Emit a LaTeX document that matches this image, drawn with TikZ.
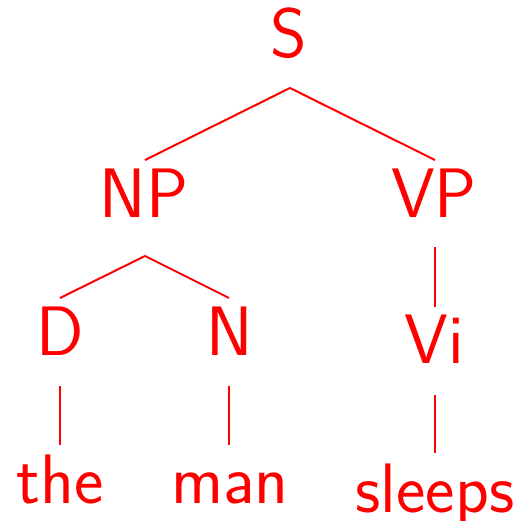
\documentclass[tikz,border=0pt]{standalone}
\usetikzlibrary{calc}
\begin{document}
\begin{tikzpicture}[x=0.5pt,y=-0.5pt,
  lbl/.style={text=red, font=\sffamily\fontsize{35}{42}\selectfont, inner sep=0pt, anchor=base, text height=23.5pt, text depth=0pt},
  edge/.style={draw=red, line width=1pt}]
\useasboundingbox (0,0) rectangle (520,521);
\node[lbl] (S) at (289,57) {S};
\node[lbl] (NP) at (144,217) {NP};
\node[lbl] (VP) at (434,217) {VP};
\node[lbl] (D) at (60,355) {D};
\node[lbl] (N) at (230,355) {N};
\node[lbl] (Vi) at (434,363) {Vi};
\node[lbl] (the) at (60,503) {the};
\node[lbl] (man) at (230,503) {man};
\node[lbl] (sleeps) at (435,512) {sleeps};
\draw[edge] ($(NP.base)+(1,-57)$) -- ($(S.base)+(1,31)$) -- ($(VP.base)+(1,-57)$);
\draw[edge] ($(D.base)+(0,-57)$) -- ($(NP.base)+(1,39)$) -- ($(N.base)+(-1,-57)$);
\draw[edge] ($(VP.base)+(1,30)$) -- ($(Vi.base)+(1,-56)$);
\draw[edge] ($(D.base)+(0,31)$) -- ($(the.base)+(0,-58)$);
\draw[edge] ($(N.base)+(-1,31)$) -- ($(man.base)+(-1,-58)$);
\draw[edge] ($(Vi.base)+(1,32)$) -- ($(sleeps.base)+(0,-59)$);
\end{tikzpicture}
\end{document}
